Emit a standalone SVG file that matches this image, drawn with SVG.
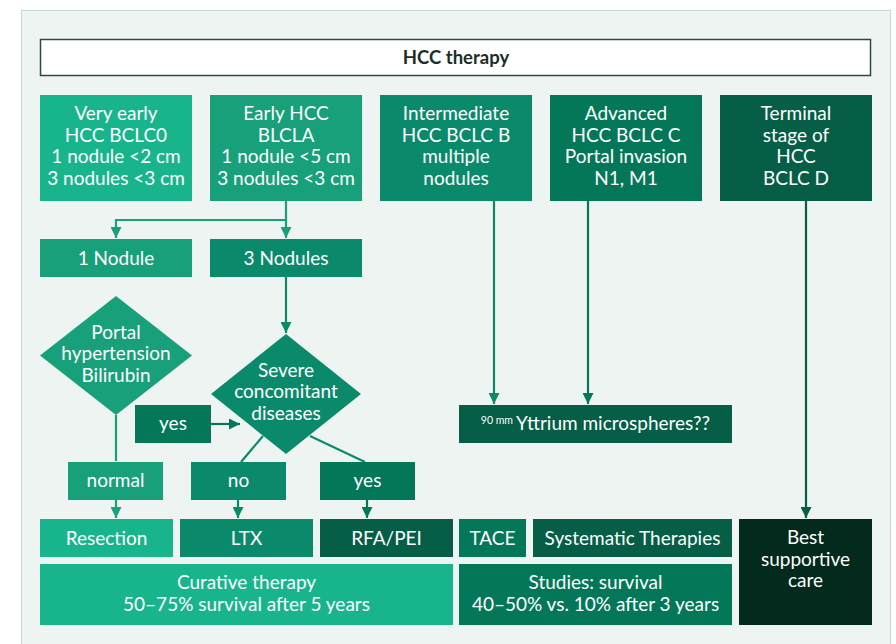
<svg xmlns="http://www.w3.org/2000/svg" width="896" height="644" viewBox="0 0 896 644">
<style>
text{font-family:Lato,"Open Sans","Liberation Sans",sans-serif;font-size:19px;fill:#ffffff;text-anchor:middle}
.title{font-weight:bold;font-size:18.5px;fill:#1b2f28}
.c1{fill:#18b58d}.c2{fill:#17a07a}.c3{fill:#0b8a6b}.c4{fill:#047759}.c5{fill:#055e45}.c6{fill:#032a1c}
.l2{stroke:#17a07a}.l3{stroke:#0b8a6b}.l4{stroke:#047759}.l5{stroke:#055e45}
#connectors path,#connectors line{fill:none;stroke-width:2.2}
</style>
<defs>
<marker id="a2" viewBox="0 0 10 10" refX="10" refY="5" markerWidth="11" markerHeight="11" markerUnits="userSpaceOnUse" orient="auto"><path d="M0,0 L10,5 L0,10 z" fill="#17a07a"/></marker>
<marker id="a3" viewBox="0 0 10 10" refX="10" refY="5" markerWidth="11" markerHeight="11" markerUnits="userSpaceOnUse" orient="auto"><path d="M0,0 L10,5 L0,10 z" fill="#0b8a6b"/></marker>
<marker id="a4" viewBox="0 0 10 10" refX="10" refY="5" markerWidth="11" markerHeight="11" markerUnits="userSpaceOnUse" orient="auto"><path d="M0,0 L10,5 L0,10 z" fill="#047759"/></marker>
<marker id="a5" viewBox="0 0 10 10" refX="10" refY="5" markerWidth="11" markerHeight="11" markerUnits="userSpaceOnUse" orient="auto"><path d="M0,0 L10,5 L0,10 z" fill="#055e45"/></marker>
</defs>
<rect x="0" y="0" width="896" height="644" fill="#ffffff"/>
<rect x="21.5" y="10.5" width="869" height="640" fill="#eef4f2" stroke="#c3ddd4" stroke-width="1"/>

<g id="title"><rect x="40.5" y="39.5" width="830" height="36" fill="#ffffff" stroke="#2c4a40" stroke-width="1.5"/><text class="title" x="456" y="63.5">HCC therapy</text></g>

<g id="connectors">
<path class="l2" d="M286,201 V238" marker-end="url(#a2)"/>
<path class="l2" d="M286,220 H116 V238" marker-end="url(#a2)"/>
<path class="l3" d="M286,277 V333" marker-end="url(#a3)"/>
<path class="l2" d="M116,415 V461" />
<path class="l4" d="M211,424 H240" marker-end="url(#a4)"/>
<path class="l3" d="M263,436 L241,462"/>
<path class="l3" d="M310,436 L365,462"/>
<path class="l2" d="M116,500 V518" marker-end="url(#a2)"/>
<path class="l3" d="M238,500 V518" marker-end="url(#a3)"/>
<path class="l4" d="M367,500 V518" marker-end="url(#a4)"/>
<path class="l3" d="M494,201 V404" marker-end="url(#a3)"/>
<path class="l4" d="M588,201 V404" marker-end="url(#a4)"/>
<path class="l5" d="M806,201 V518" marker-end="url(#a5)"/>
</g>

<g id="very-early"><rect class="c1" x="40" y="95" width="152" height="106"/><text x="116" y="120">Very early</text><text x="116" y="141.5">HCC BCLC0</text><text x="116" y="163">1 nodule &lt;2 cm</text><text x="116" y="184.5">3 nodules &lt;3 cm</text></g>
<g id="early"><rect class="c2" x="210" y="95" width="152" height="106"/><text x="286" y="120">Early HCC</text><text x="286" y="141.5">BLCLA</text><text x="286" y="163">1 nodule &lt;5 cm</text><text x="286" y="184.5">3 nodules &lt;3 cm</text></g>
<g id="intermediate"><rect class="c3" x="380" y="95" width="152" height="106"/><text x="456" y="120">Intermediate</text><text x="456" y="141.5">HCC BCLC B</text><text x="456" y="163">multiple</text><text x="456" y="184.5">nodules</text></g>
<g id="advanced"><rect class="c4" x="550" y="95" width="152" height="106"/><text x="626" y="120">Advanced</text><text x="626" y="141.5">HCC BCLC C</text><text x="626" y="163">Portal invasion</text><text x="626" y="184.5">N1, M1</text></g>
<g id="terminal"><rect class="c5" x="720" y="95" width="152" height="106"/><text x="796" y="120">Terminal</text><text x="796" y="141.5">stage of</text><text x="796" y="163">HCC</text><text x="796" y="184.5">BCLC D</text></g>

<g id="one-nodule"><rect class="c2" x="40" y="239" width="152" height="38"/><text x="116" y="264.5">1 Nodule</text></g>
<g id="three-nodules"><rect class="c3" x="210" y="239" width="152" height="38"/><text x="286" y="264.5">3 Nodules</text></g>

<g id="portal"><polygon class="c2" points="116,296 192,355.5 116,415 40,355.5"/><text x="116" y="338.5">Portal</text><text x="116" y="360">hypertension</text><text x="116" y="381.5">Bilirubin</text></g>
<g id="severe"><polygon class="c3" points="286,334 361,394 286,454 211,394"/><text x="286" y="376.5">Severe</text><text x="286" y="398">concomitant</text><text x="286" y="419.5">diseases</text></g>

<g id="yes-left"><rect class="c4" x="135" y="405" width="76" height="38"/><text x="173" y="430">yes</text></g>
<g id="normal"><rect class="c2" x="68" y="462" width="95" height="38"/><text x="115.5" y="487">normal</text></g>
<g id="no"><rect class="c3" x="191" y="462" width="95" height="38"/><text x="238.5" y="487">no</text></g>
<g id="yes-right"><rect class="c4" x="320" y="462" width="95" height="38"/><text x="367.5" y="487">yes</text></g>

<g id="yttrium"><rect class="c5" x="459" y="405" width="273" height="38"/><text x="595.5" y="430"><tspan font-size="10.5" dy="-6">90 mm</tspan><tspan dy="6" dx="3">Yttrium microspheres??</tspan></text></g>

<g id="resection"><rect class="c1" x="40" y="519" width="133" height="38"/><text x="106.5" y="544.5">Resection</text></g>
<g id="ltx"><rect class="c3" x="180" y="519" width="133" height="38"/><text x="246.5" y="544.5">LTX</text></g>
<g id="rfa"><rect class="c5" x="320" y="519" width="133" height="38"/><text x="386.5" y="544.5">RFA/PEI</text></g>
<g id="tace"><rect class="c4" x="459" y="519" width="67" height="38"/><text x="492.5" y="544.5">TACE</text></g>
<g id="systematic"><rect class="c5" x="533" y="519" width="199" height="38"/><text x="632.5" y="544.5">Systematic Therapies</text></g>
<g id="best"><rect class="c6" x="739" y="519" width="133" height="106"/><text x="805.5" y="544">Best</text><text x="805.5" y="565.5">supportive</text><text x="805.5" y="587">care</text></g>

<g id="curative"><rect class="c1" x="40" y="564" width="413" height="61"/><text x="246.5" y="589">Curative therapy</text><text x="246.5" y="611">50–75% survival after 5 years</text></g>
<g id="studies"><rect class="c4" x="459" y="564" width="273" height="61"/><text x="595.5" y="589">Studies: survival</text><text x="595.5" y="611">40–50% vs. 10% after 3 years</text></g>
</svg>
